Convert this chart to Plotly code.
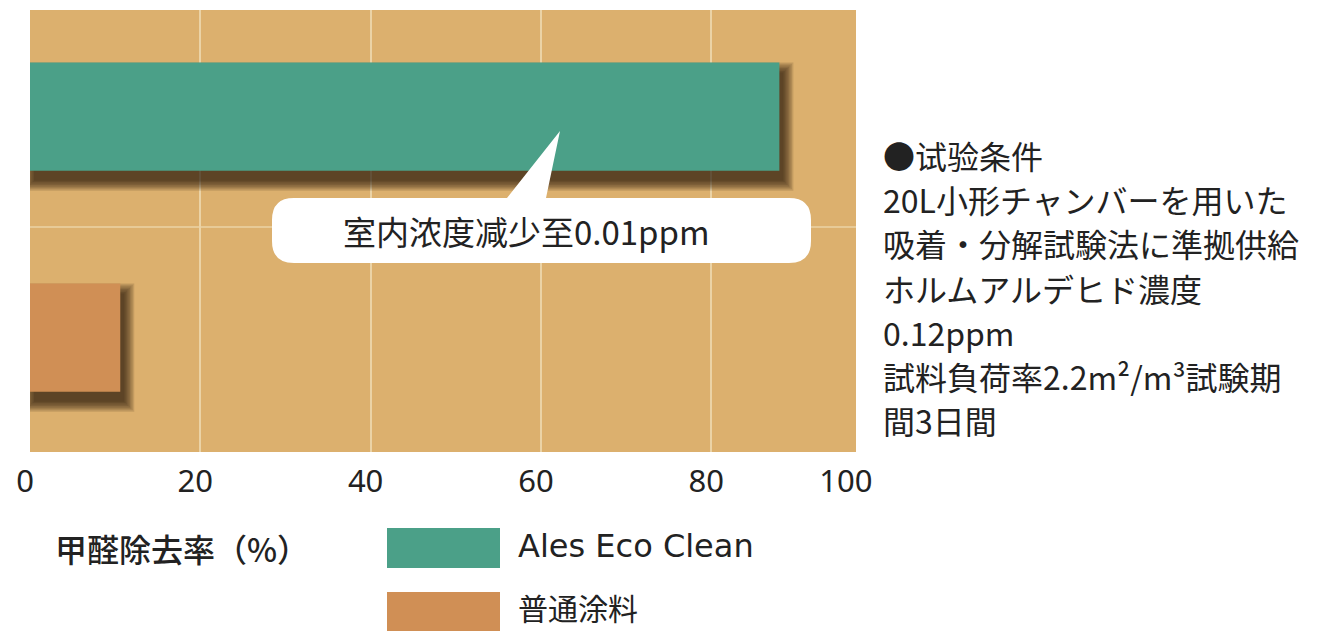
import plotly.graph_objects as go

# ---------------- data ----------------
CATEGORIES = ["Ales Eco Clean", "普通涂料"]
VALUES = [88.0, 10.6]
BAR_COLORS = ["#4BA088", "#D08F55"]
TICK_LABELS = ["0", "20", "40", "60", "80", "100"]
AXIS_TITLE = "甲醛除去率（%）"
CALLOUT_TEXT = "室内浓度减少至0.01ppm"
NOTE_LINES = [
    "●试验条件",
    "20L小形チャンバーを用いた",
    "吸着・分解試験法に準拠供給",
    "ホルムアルデヒド濃度",
    "0.12ppm",
    "試料負荷率2.2m²/m³試験期",
    "間3日間",
]

# ---------------- geometry ----------------
W, H = 1334, 631
ML, MR, MT, MB = 30, 478, 10, 179
PW, PH = W - ML - MR, H - MT - MB
X_MAX = 97.0
Y_RANGE = [1.518, -0.482]
BAR_W = 0.49
PX_X = PW / X_MAX                    # px per x unit
PX_Y = PH / abs(Y_RANGE[0] - Y_RANGE[1])  # px per category unit

FONT = "Noto Sans CJK JP, Noto Sans, sans-serif"
LATIN = "DejaVu Sans, Noto Sans, sans-serif"
TXT = "#222222"


def px(xp):
    return (xp - ML) / PW


def py(yp):
    return (MT + PH - yp) / PH


fig = go.Figure()

# soft drop shadows (layered translucent bars derived from the same data)
N = 8
BLUR = 10.0
DX, DY = 4.0, 10.0
alpha = 1 - (1 - 0.68) ** (1 / N)
for j in range(N):
    e = BLUR - j * BLUR / (N - 1)
    ex = e / PX_X
    ey = e / PX_Y
    fig.add_trace(go.Bar(
        orientation="h",
        y=CATEGORIES,
        x=[v + 2 * ex for v in VALUES],
        base=[-ex + DX / PX_X for _ in VALUES],
        width=BAR_W + 2 * ey,
        offset=-(BAR_W / 2 + ey) + DY / PX_Y,
        marker=dict(color=f"rgba(40,26,10,{alpha:.3f})", line=dict(width=0)),
        showlegend=False, hoverinfo="skip",
    ))

fig.add_trace(go.Bar(
    orientation="h",
    y=CATEGORIES,
    x=VALUES,
    width=BAR_W,
    marker=dict(color=BAR_COLORS, line=dict(width=0)),
    showlegend=False,
))

tickvals = [min(float(t), X_MAX - 0.6) for t in TICK_LABELS]

fig.update_layout(
    width=W, height=H, autosize=False,
    margin=dict(l=ML, r=MR, t=MT, b=MB),
    paper_bgcolor="white",
    plot_bgcolor="#DCB06E",
    barmode="overlay",
    showlegend=False,
    font=dict(family=FONT, color=TXT),
    xaxis=dict(
        range=[0, X_MAX],
        tickvals=tickvals,
        ticktext=TICK_LABELS,
        showgrid=False,
        zeroline=False,
        showline=False,
        ticks="outside", ticklen=2, tickcolor="rgba(0,0,0,0)",
        ticklabelshift=-5,
        tickfont=dict(size=31, color=TXT, family="Noto Sans, sans-serif"),
        minor=dict(tickvals=[float(t) for t in TICK_LABELS[1:-1]], showgrid=True,
                   gridcolor="#EBD3A6", gridwidth=1.5, ticks=""),
        fixedrange=True,
    ),
    yaxis=dict(
        type="category",
        categoryorder="array", categoryarray=CATEGORIES,
        range=Y_RANGE,
        showgrid=False, zeroline=False, showticklabels=False, ticks="",
        fixedrange=True,
    ),
)

shapes = []
# horizontal separator grid line between categories
shapes.append(dict(type="line", xref="paper", yref="y", x0=0, x1=1, y0=0.5, y1=0.5,
                   line=dict(color="#EBD3A6", width=1.5), layer="between"))

# callout bubble
bx0, bx1, by0, by1, r = 272, 811, 198, 263, 22
tip = (560, 131)
pl, pr = 507, 546
pts = [
    ("M", (bx0 + r, by0)), ("L", (pl, by0)), ("L", tip), ("L", (pr, by0)),
    ("L", (bx1 - r, by0)), ("Q", (bx1, by0), (bx1, by0 + r)),
    ("L", (bx1, by1 - r)), ("Q", (bx1, by1), (bx1 - r, by1)),
    ("L", (bx0 + r, by1)), ("Q", (bx0, by1), (bx0, by1 - r)),
    ("L", (bx0, by0 + r)), ("Q", (bx0, by0), (bx0 + r, by0)),
]
path = ""
for cmd, *p in pts:
    path += cmd + " " + " ".join(f"{px(a):.5f},{py(b):.5f}" for a, b in p) + " "
path += "Z"
shapes.append(dict(type="path", xref="paper", yref="paper", path=path,
                   fillcolor="white", line=dict(width=0), layer="above"))

# legend swatches
LEG_X0, LEG_X1 = 387, 500
LEG_Y0, LEG_H, LEG_STEP = 528, 40, 64
annotations = []
for i, (name, col) in enumerate(zip(CATEGORIES, BAR_COLORS)):
    y0 = LEG_Y0 + i * LEG_STEP
    shapes.append(dict(type="rect", xref="paper", yref="paper",
                       x0=px(LEG_X0), x1=px(LEG_X1), y0=py(y0), y1=py(y0 + LEG_H),
                       fillcolor=col, line=dict(width=0), layer="above"))
    is_latin = name.isascii()
    annotations.append(dict(xref="paper", yref="paper", x=px(516),
                            y=py(y0 + LEG_H / 2 - (2 if is_latin else 5)),
                            text=name, showarrow=False, xanchor="left", yanchor="middle",
                            font=dict(size=32 if is_latin else 30, color=TXT,
                                      family=LATIN if is_latin else FONT)))

annotations.append(dict(xref="paper", yref="paper", x=px(53), y=py(548), text=AXIS_TITLE,
                        showarrow=False, xanchor="left", yanchor="middle",
                        font=dict(size=32, color=TXT, family=FONT, weight=500)))

annotations.append(dict(xref="paper", yref="paper", x=px((bx0 + bx1) / 2 - 15), y=py(231),
                        text=CALLOUT_TEXT, showarrow=False, xanchor="center", yanchor="middle",
                        font=dict(size=33, color=TXT, family="Noto Sans CJK SC, sans-serif")))

for k, line in enumerate(NOTE_LINES):
    annotations.append(dict(xref="paper", yref="paper", x=px(881), y=py(155 + k * 44.2),
                            text=line, showarrow=False, xanchor="left", yanchor="middle",
                            font=dict(size=32, color=TXT, family=FONT)))

fig.update_layout(shapes=shapes, annotations=annotations)

fig.write_html("out.html")
